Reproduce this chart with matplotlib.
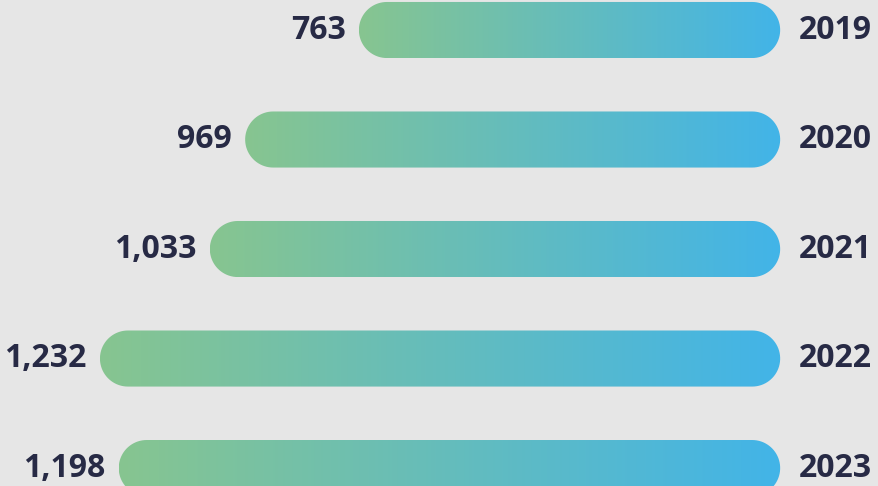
import numpy as np
import matplotlib
matplotlib.use('Agg')
import matplotlib.pyplot as plt
from matplotlib.patches import Polygon
from matplotlib.colors import LinearSegmentedColormap

# 数据
years = ['2019', '2020', '2021', '2022', '2023']
values = [763, 969, 1033, 1232, 1198]
value_labels = ['763', '969', '1,033', '1,232', '1,198']

BG = '#e6e6e6'
TEXT = '#272a45'
cmap = LinearSegmentedColormap.from_list('gb', ['#87c590', '#42b4e8'])

W, H = 879, 486
fig = plt.figure(figsize=(W / 100, H / 100), dpi=100, facecolor=BG)
ax = fig.add_axes([0, 0, 1, 1])
ax.set_facecolor(BG)
ax.axis('off')

xlim = (1413, -179)
ylim = (4.164, -0.274)
bar_h = 0.512

# 每像素对应的数据单位，用于圆角
x_per_px = (xlim[0] - xlim[1]) / W
rx = 28 * x_per_px


def pill(v, yc, h):
    """两端为半椭圆（屏幕上为半圆）的条形轮廓"""
    ry = h / 2
    t = np.linspace(-np.pi / 2, np.pi / 2, 40)
    # 屏幕右端 (数据 x=0 处) 圆弧，朝数据负方向凸出
    right = np.column_stack([rx - rx * np.cos(t), yc + ry * np.sin(t)])
    # 屏幕左端 (数据 x=v 处) 圆弧
    left = np.column_stack([v - rx + rx * np.cos(t), yc - ry * np.sin(t)])
    return np.vstack([right, left])


grad = np.linspace(0, 1, 256).reshape(1, -1)

for i, (yr, v, lab) in enumerate(zip(years, values, value_labels)):
    patch = Polygon(pill(v, i, bar_h), closed=True,
                    facecolor='none', edgecolor='none')
    ax.add_patch(patch)
    im = ax.imshow(grad, cmap=cmap, aspect='auto', interpolation='bilinear',
                   extent=(v, 0, i + bar_h / 2, i - bar_h / 2))
    im.set_clip_path(patch)

    ax.text(v + 13 * x_per_px, i, lab, ha='right', va='center',
            fontsize=23, fontweight='bold', color=TEXT, family='Open Sans')
    ax.text(-19 * x_per_px, i, yr, ha='left', va='center',
            fontsize=23, fontweight='bold', color=TEXT, family='Open Sans')

ax.set_xlim(*xlim)
ax.set_ylim(*ylim)

plt.savefig('out.png', dpi=100, facecolor=BG)
plt.close()
